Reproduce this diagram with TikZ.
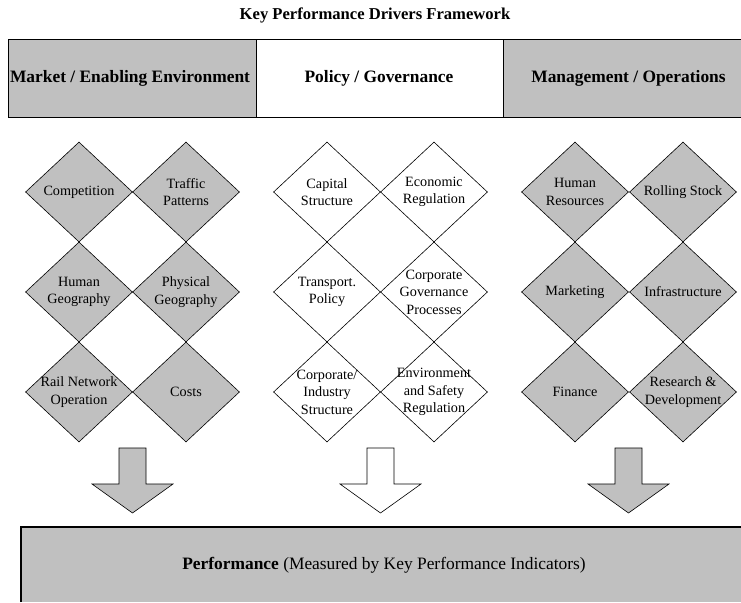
\documentclass[tikz,border=0pt]{standalone}
\usepackage{fontspec}
\setmainfont{Liberation Serif}
\usetikzlibrary{shapes.geometric}
\definecolor{panelgray}{HTML}{C0C0C0}

\begin{document}
\begin{tikzpicture}[x=1pt,y=-1pt,
  titletext/.style={font=\bfseries\fontsize{16.6}{19}\selectfont, inner sep=0pt},
  headtext/.style={font=\bfseries\fontsize{17.4}{20}\selectfont, inner sep=0pt},
  headbox/.style={draw, line width=0.8pt, minimum height=78pt, inner sep=0pt},
  dia/.style={diamond, draw, line width=0.6pt, minimum width=107pt, minimum height=100pt, inner sep=0pt},
  graydia/.style={dia, fill=panelgray},
  whitedia/.style={dia, fill=white},
  dtext/.style={align=center, font=\fontsize{14.2}{17.5}\selectfont, inner sep=0pt},
  blockarrow/.style={draw, line width=0.6pt},
  pics/downarrow/.style={code={
    \draw[blockarrow, fill=#1] (-13.5,0) -- (13.5,0) -- (13.5,36) -- (40.5,36)
      -- (0,65) -- (-40.5,36) -- (-13.5,36) -- cycle;}},
  perftext/.style={font=\fontsize{17.4}{20}\selectfont, inner sep=0pt}
]
\useasboundingbox (0,0) rectangle (741,602);

% title
\node[titletext] (title) at (375,15) {Key Performance Drivers Framework};

% header row
\node[headbox, fill=panelgray, minimum width=248pt] (hmarket) at (132,78) {};
\node[headbox, fill=white, minimum width=247pt] (hpolicy) at (379.5,78) {};
\fill[panelgray] (503,39) rectangle (741,117);
\draw[line width=0.8pt] (741,39) -- (503,39) -- (503,117) -- (741,117);
\node[headtext] (tmarket) at (130,78) {Market / Enabling Environment};
\node[headtext] (tpolicy) at (379,78) {Policy / Governance};
\node[headtext] (tmanage) at (628.5,78) {Management / Operations};

% market / enabling environment drivers
\node[graydia] (m1) at (79,192) {};
\node[graydia] (m2) at (186,192) {};
\node[graydia] (m3) at (79,292) {};
\node[graydia] (m4) at (186,292) {};
\node[graydia] (m5) at (79,392) {};
\node[graydia] (m6) at (186,392) {};
\node[dtext] at (m1) {Competition};
\node[dtext] at (m2) {Traffic\\Patterns};
\node[dtext] at (m3) {Human\\Geography};
\node[dtext] at (m4) {Physical\\Geography};
\node[dtext] at (m5) {Rail Network\\Operation};
\node[dtext] at (m6) {Costs};

% policy / governance drivers
\node[whitedia] (p1) at (327,192) {};
\node[whitedia] (p2) at (434,192) {};
\node[whitedia] (p3) at (327,292) {};
\node[whitedia] (p4) at (434,292) {};
\node[whitedia] (p5) at (327,392) {};
\node[whitedia] (p6) at (434,392) {};
\node[dtext] at (p1) {Capital\\Structure};
\node[dtext] at (p2) {Economic\\Regulation};
\node[dtext] at (p3) {Transport.\\Policy};
\node[dtext] at (p4) {Corporate\\Governance\\Processes};
\node[dtext] at (p5) {Corporate/\\Industry\\Structure};
\node[dtext] at (p6) {Environment\\and Safety\\Regulation};

% management / operations drivers
\node[graydia] (o1) at (575,192) {};
\node[graydia] (o2) at (683,192) {};
\node[graydia] (o3) at (575,292) {};
\node[graydia] (o4) at (683,292) {};
\node[graydia] (o5) at (575,392) {};
\node[graydia] (o6) at (683,392) {};
\node[dtext] at (o1) {Human\\Resources};
\node[dtext] at (o2) {Rolling Stock};
\node[dtext] at (o3) {Marketing};
\node[dtext] at (o4) {Infrastructure};
\node[dtext] at (o5) {Finance};
\node[dtext] at (o6) {Research \&\\Development};

% block arrows into performance
\pic at (132.5,448) {downarrow=panelgray};
\pic at (380.5,448) {downarrow=white};
\pic at (628.5,448) {downarrow=panelgray};

% performance panel
\fill[panelgray] (21,527) rectangle (741,602);
\draw[line width=1.4pt] (21,602) -- (21,527) -- (741,527);
\node[perftext] (perf) at (384,565) {\textbf{Performance} (Measured by Key Performance Indicators)};
\end{tikzpicture}
\end{document}
